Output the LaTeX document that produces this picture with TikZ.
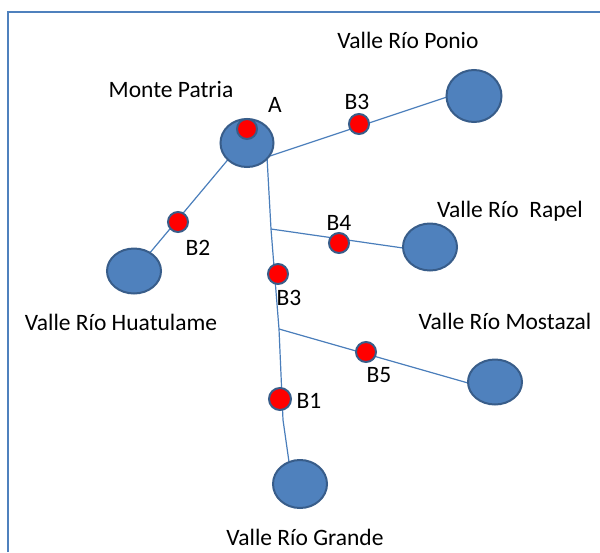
\documentclass[tikz,border=0pt]{standalone}
\usepackage{fontspec}
\setmainfont{Carlito}
\usetikzlibrary{shapes.geometric}
\definecolor{vfill}{HTML}{4F81BD}
\definecolor{vedge}{HTML}{385D8A}
\definecolor{vline}{HTML}{4A7EBB}
\tikzset{
  valley/.style={ellipse, fill=vfill, draw=vedge, line width=2pt, inner sep=0pt},
  dot/.style={circle, fill=red, draw=vedge, line width=2pt, inner sep=0pt, minimum size=20pt},
  river/.style={draw=vline, line width=1.2pt},
  lbl/.style={anchor=base, inner sep=0pt, font=\fontsize{23.5}{28}\selectfont},
}
\begin{document}
\begin{tikzpicture}[x=1pt,y=-1pt]
\useasboundingbox (0,0) rectangle (600,552);
% frame
\coordinate (fbl) at (8,552);
\coordinate (ftl) at (8,12);
\coordinate (ftr) at (600,12);
\draw[vfill, line width=2pt] (fbl) -- (ftl) -- (ftr);
% river coordinates
\coordinate (j0) at (267,157);
\coordinate (pe) at (447,97);
\coordinate (ml) at (236,150);
\coordinate (he) at (128,279);
\coordinate (j1) at (271,229);
\coordinate (re) at (403,248);
\coordinate (j2) at (279,329);
\coordinate (me) at (468,383);
\coordinate (j3) at (283,420);
\coordinate (j4) at (289,462);
\coordinate (ge) at (291,480);
% rivers
\draw[river] (j0) -- (pe);
\draw[river] (ml) -- (he);
\draw[river] (j0) -- (j1) -- (j2) -- (j3) -- (j4) -- (ge);
\draw[river] (j1) -- (re);
\draw[river] (j2) -- (me);
% valleys
\node[valley, minimum width=53pt, minimum height=48pt] (mp) at (247,143) {};
\node[valley, minimum width=55pt, minimum height=52pt] (pon) at (474,96) {};
\node[valley, minimum width=54pt, minimum height=47pt] (rap) at (430,247) {};
\node[valley, minimum width=54pt, minimum height=45pt] (mos) at (495,382) {};
\node[valley, minimum width=54pt, minimum height=45pt] (hua) at (134,271) {};
\node[valley, minimum width=54pt, minimum height=48pt] (gra) at (300,484) {};
% dots
\node[dot] (dA) at (247,129) {};
\node[dot] (dB3u) at (359,124) {};
\node[dot] (dB2) at (178,222) {};
\node[dot] (dB4) at (339,243) {};
\node[dot] (dB3l) at (278,274) {};
\node[dot] (dB5) at (366,352) {};
\node[dot, minimum size=22pt] (dB1) at (280,399) {};
% labels
\node[lbl] (tMP) at (171,97) {Monte Patria};
\node[lbl] (tPon) at (408,48) {Valle Río Ponio};
\node[lbl] (tRap) at (510,217) {Valle Río\ \ Rapel};
\node[lbl] (tMos) at (505,329) {Valle Río Mostazal};
\node[lbl] (tHua) at (121,330) {Valle Río Huatulame};
\node[lbl] (tGra) at (305,545) {Valle Río Grande};
\node[lbl] (tA) at (275,112) {A};
\node[lbl] (tB3u) at (357,109) {B3};
\node[lbl] (tB2) at (198,255) {B2};
\node[lbl] (tB4) at (339,230) {B4};
\node[lbl] (tB3l) at (289,305) {B3};
\node[lbl] (tB5) at (379,382) {B5};
\node[lbl] (tB1) at (309,408) {B1};
\end{tikzpicture}
\end{document}
